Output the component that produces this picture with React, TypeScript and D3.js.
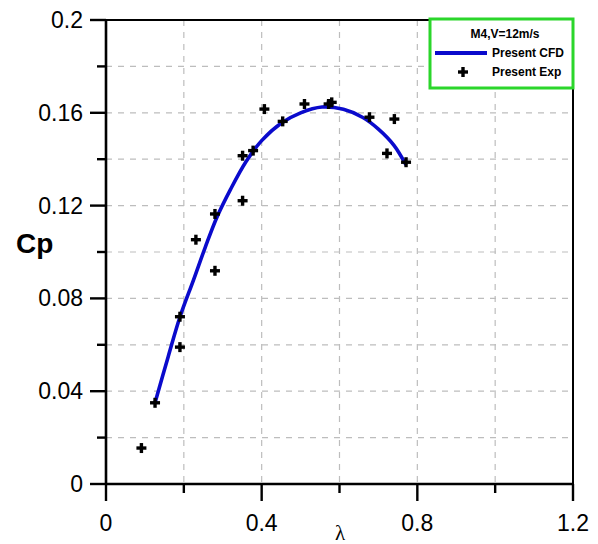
import React from "react";
import * as d3 from "d3";

// curve (Present CFD)
const cfdLambda = [0.126, 0.16, 0.19, 0.225, 0.255, 0.285, 0.32, 0.36, 0.4, 0.45, 0.5, 0.555, 0.61, 0.66, 0.7, 0.74, 0.771];
const cfdCp = [0.035, 0.055, 0.072, 0.088, 0.102, 0.115, 0.127, 0.139, 0.148, 0.1555, 0.16, 0.1625, 0.1615, 0.158, 0.153, 0.146, 0.1375];

// experiment points (Present Exp)
const expLambda = [0.091, 0.126, 0.19, 0.19, 0.231, 0.28, 0.28, 0.351, 0.351, 0.378, 0.407, 0.454, 0.51, 0.572, 0.58, 0.677, 0.722, 0.741, 0.771];
const expCp = [0.0155, 0.035, 0.059, 0.0721, 0.1053, 0.0919, 0.1164, 0.1221, 0.1415, 0.1437, 0.1616, 0.1563, 0.1638, 0.1638, 0.1645, 0.1581, 0.1425, 0.1573, 0.1387];

const xTicks = [0, 0.4, 0.8, 1.2];
const xMinor = [0.2, 0.6, 1.0];
const yTicks = [0, 0.04, 0.08, 0.12, 0.16, 0.2];
const yMinor = [0.02, 0.06, 0.1, 0.14, 0.18];

const W = 598;
const H = 544;
const left = 106, right = 573, top = 20, bottom = 484;

const App = () => {
  const x = d3.scaleLinear().domain([0, 1.2]).range([left, right]);
  const y = d3.scaleLinear().domain([0, 0.2]).range([bottom, top]);

  const pts: [number, number][] = cfdLambda.map((l, i) => [l, cfdCp[i]]);
  const line = d3
    .line<[number, number]>()
    .x((d) => x(d[0]))
    .y((d) => y(d[1]))
    .curve(d3.curveCatmullRom.alpha(0.5));

  const xGrid = d3.range(1, 6).map((i) => i * 0.2);
  const yGrid = d3.range(1, 10).map((i) => i * 0.02);

  const plus = (cx: number, cy: number, key: string) => (
    <g key={key}>
      <line x1={cx - 5} x2={cx + 5} y1={cy} y2={cy} stroke="#000" strokeWidth={3.4} />
      <line x1={cx} x2={cx} y1={cy - 5} y2={cy + 5} stroke="#000" strokeWidth={3.4} />
    </g>
  );

  const fmt = (v: number) => (v === 0 ? "0" : String(+v.toFixed(2)));

  return (
    <svg
      width={W}
      height={H}
      style={{ position: "absolute", left: 0, top: 0, background: "#fff" }}
      fontFamily="'Liberation Sans', Arial, sans-serif"
    >
      <rect width={W} height={H} fill="#fff" />

      {/* grid */}
      <g stroke="#bdbdbd" strokeWidth={1.2} strokeDasharray="6,6">
        {xGrid.map((v) => (
          <line key={"gx" + v} x1={x(v)} x2={x(v)} y1={top} y2={bottom} />
        ))}
        {yGrid.map((v) => (
          <line key={"gy" + v} x1={left} x2={right} y1={y(v)} y2={y(v)} />
        ))}
      </g>

      {/* frame */}
      <line x1={left} x2={right} y1={top} y2={top} stroke="#000" strokeWidth={2} />
      <line x1={right} x2={right} y1={top} y2={bottom} stroke="#000" strokeWidth={2} />
      <line x1={left} x2={left} y1={top - 1} y2={bottom + 1} stroke="#000" strokeWidth={2.6} />
      <line x1={left - 1} x2={right + 1} y1={bottom} y2={bottom} stroke="#000" strokeWidth={2.6} />

      {/* ticks */}
      <g stroke="#000" strokeWidth={2.4}>
        {xTicks.map((v) => (
          <line key={"xt" + v} x1={x(v)} x2={x(v)} y1={bottom} y2={bottom + 17} />
        ))}
        {xMinor.map((v) => (
          <line key={"xm" + v} x1={x(v)} x2={x(v)} y1={bottom} y2={bottom + 9} />
        ))}
        {yTicks.map((v) => (
          <line key={"yt" + v} x1={left - 16} x2={left} y1={y(v)} y2={y(v)} />
        ))}
        {yMinor.map((v) => (
          <line key={"ym" + v} x1={left - 9} x2={left} y1={y(v)} y2={y(v)} />
        ))}
      </g>

      {/* tick labels */}
      <g fontSize={23} fill="#000">
        {xTicks.map((v) => (
          <text key={"xl" + v} x={x(v)} y={531} textAnchor="middle">
            {fmt(v)}
          </text>
        ))}
        {yTicks.map((v) => (
          <text key={"yl" + v} x={left - 23} y={y(v) + 8} textAnchor="end">
            {fmt(v)}
          </text>
        ))}
      </g>

      {/* axis titles */}
      <text x={16} y={253} fontSize={28} fontWeight="bold">
        Cp
      </text>
      <text x={340} y={540} fontSize={21} textAnchor="middle" fontFamily="'Liberation Serif', serif">
        λ
      </text>

      {/* data */}
      <path d={line(pts) ?? ""} fill="none" stroke="#0a0acc" strokeWidth={3.6} />
      {expLambda.map((l, i) => plus(x(l), y(expCp[i]), "p" + i))}

      {/* legend */}
      <rect x={430} y={19} width={143} height={69} fill="#fff" stroke="#2bd62b" strokeWidth={3} />
      <text x={505} y={38} fontSize={12} fontWeight="bold" textAnchor="middle">
        M4,V=12m/s
      </text>
      <line x1={435} x2={487} y1={53} y2={53} stroke="#0a0acc" strokeWidth={4} />
      <text x={492} y={57} fontSize={12} fontWeight="bold">
        Present CFD
      </text>
      {plus(463, 72, "leg")}
      <text x={492} y={76} fontSize={12} fontWeight="bold">
        Present Exp
      </text>
    </svg>
  );
};

export default App;
